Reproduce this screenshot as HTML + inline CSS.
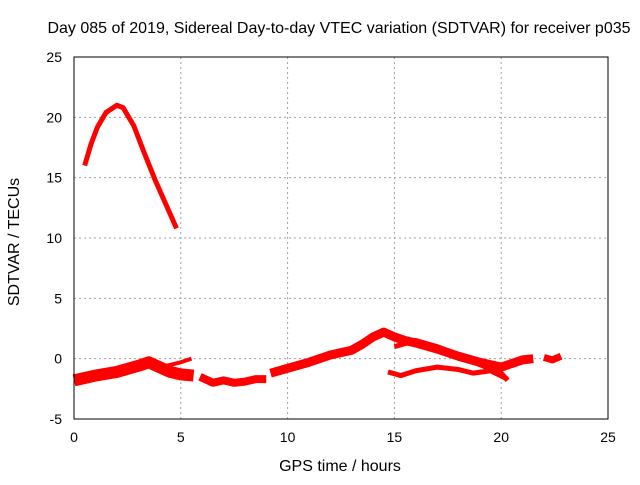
<!DOCTYPE html>
<html><head><meta charset="utf-8"><style>
body{margin:0;background:#fff}
svg text{font-family:"Liberation Sans",sans-serif;font-size:14px;fill:#000}
svg text.big{font-size:16px}
</style></head><body>
<svg id="chart" width="640" height="480" viewBox="0 0 640 480" xmlns="http://www.w3.org/2000/svg">
<text class="big" x="339" y="33" text-anchor="middle">Day 085 of 2019, Sidereal Day-to-day VTEC variation (SDTVAR) for receiver p035</text>
<g id="grid"></g>
<g id="series"></g>
<rect x="74" y="57" width="534" height="362" fill="none" stroke="#000" stroke-width="1"/>
<g id="ticks"></g>
<text class="big" x="340" y="471" text-anchor="middle">GPS time / hours</text>
<text class="big" x="19" y="242" text-anchor="middle" transform="rotate(-90 19 242)">SDTVAR / TECUs</text>
</svg>
<script>
const xTicks=[0,5,10,15,20,25];
const yTicks=[-5,0,5,10,15,20,25];
const arcSeg=[[0.5,16],[0.8,17.8],[1.1,19.2],[1.5,20.4],[2,21],[2.3,20.8],[2.8,19.3],[3.3,17],[3.8,14.8],[4.3,12.8],[4.8,10.8]];
const bandA=[[0,-1.8],[0.5,-1.6],[1,-1.4],[2,-1.1],[3,-0.6],[3.5,-0.3],[4,-0.7],[4.5,-1.1],[5,-1.3],[5.6,-1.4]];
const bandA2=[[3.6,-0.3],[4.3,-0.6],[5,-0.3],[5.5,0]];
const bandB=[[5.9,-1.5],[6.5,-2],[7,-1.8],[7.5,-2],[8,-1.9],[8.5,-1.7],[9,-1.7]];
const bandC=[[9.2,-1.2],[10,-0.8],[11,-0.3],[12,0.3],[13,0.7],[13.5,1.2],[14,1.8],[14.5,2.2],[15,1.8],[15.5,1.5],[16,1.3],[17,0.8],[18,0.2],[19,-0.3],[20,-0.7],[20.5,-0.4],[21,-0.1],[21.5,0]];
const bandC2=[[15,1],[16,1.5],[17,1],[18,0.3],[19,-0.5],[20,-1.2],[20.3,-1.8]];
const bandC3=[[14.7,-1.1],[15.3,-1.4],[16,-1],[17,-0.7],[18,-0.9],[18.7,-1.2],[19.5,-1],[20.3,-1.7]];
const bandD=[[22,0.1],[22.4,-0.1],[22.8,0.2]];
const X=v=>74+v*534/25, Y=v=>419-(v+5)*362/30;
const NS='http://www.w3.org/2000/svg';
const grid=document.getElementById('grid'),ticks=document.getElementById('ticks'),ser=document.getElementById('series');
function mk(t,a,p){const e=document.createElementNS(NS,t);for(const k in a)e.setAttribute(k,a[k]);p.appendChild(e);return e;}
xTicks.forEach(v=>{
 if(v>0&&v<25){const l=mk('line',{x1:X(v),x2:X(v),y1:57,y2:419,stroke:'#a0a0a0','stroke-dasharray':'2,3'},grid);
 
 }
 const t=mk('text',{x:X(v),y:442,'text-anchor':'middle'},ticks);t.textContent=v;
 
 
});
yTicks.forEach(v=>{
 if(v>-5&&v<25){const l=mk('line',{x1:74,x2:608,y1:Y(v),y2:Y(v),stroke:'#a0a0a0','stroke-dasharray':'2,3'},grid);
 
 }
 const t=mk('text',{x:62,y:Y(v)+5,'text-anchor':'end'},ticks);t.textContent=v;
 
 
});
[[arcSeg,5],[bandA,12],[bandA2,4],[bandB,8],[bandC,9],[bandC2,5],[bandC3,5],[bandD,7]].forEach(([d,w])=>{
 const p=mk('polyline',{points:d.map(q=>X(q[0])+','+Y(q[1])).join(' '),fill:'none',stroke:'#ff0000','stroke-width':w,'stroke-linejoin':'round','stroke-linecap':'butt'},ser);
 
 
});
</script>
</body></html>
